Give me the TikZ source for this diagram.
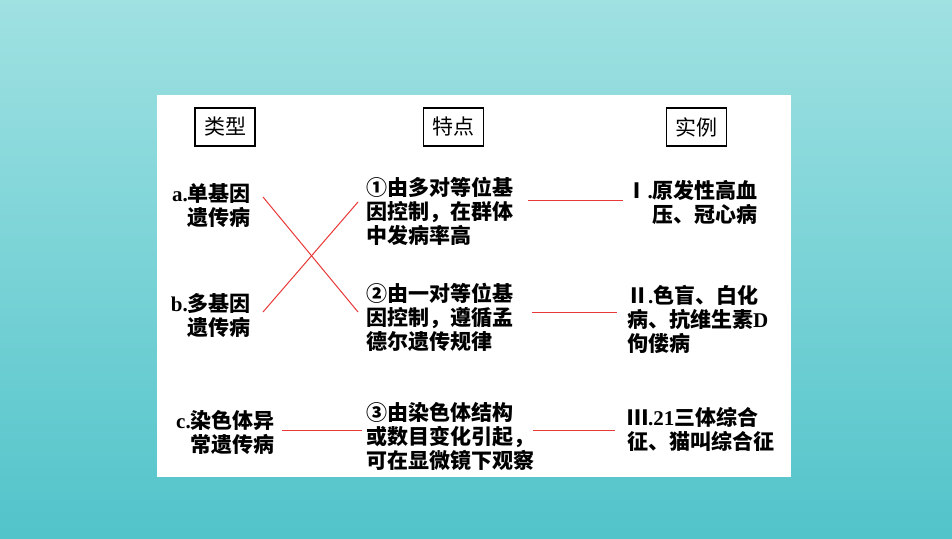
\documentclass[tikz,border=0pt]{standalone}
\usepackage{fontspec}
\newfontfamily\cjk{Noto Sans CJK SC}
\newfontfamily\lat{Liberation Serif}
\definecolor{bgtop}{RGB}{160,225,226}
\definecolor{bgbot}{RGB}{82,196,202}
\definecolor{linkred}{RGB}{232,56,56}
\newcommand{\lt}[1]{{\lat\bfseries #1}}
\tikzset{
  txt/.style={inner sep=0pt, font=\cjk\bfseries\fontsize{21}{24}\selectfont},
  hdr/.style={draw=black, line width=1.5pt, minimum width=60pt, minimum height=38pt,
              inner sep=0pt, font=\cjk\fontsize{21}{24}\selectfont},
  link/.style={draw=linkred, line width=1pt},
}
\begin{document}
\begin{tikzpicture}[x=1pt,y=-1pt]
\useasboundingbox (0,0) rectangle (952,538);
\shade[top color=bgtop, bottom color=bgbot] (0,0) rectangle (952,538);
\fill[white] (157,95) rectangle (791,477);
% headers
\node[hdr] (h1) at (225,127) {类型};
\node[hdr] (h2) at (453.5,127) {特点};
\node[hdr] (h3) at (696.5,127) {实例};
% column 1 (anchor = baseline of last line)
\node[txt, align=right, anchor=base east] (a) at (251,225) {\lt{a.}单基因\\遗传病};
\node[txt, align=right, anchor=base east] (b) at (251,335) {\lt{b.}多基因\\遗传病};
\node[txt, align=right, anchor=base east] (c) at (275,452) {\lt{c.}染色体异\\常遗传病};
% column 2
\node[txt, align=left, anchor=base west] (f1) at (366,243) {①由多对等位基\\因控制，在群体\\中发病率高};
\node[txt, align=left, anchor=base west] (f2) at (366,349) {②由一对等位基\\因控制，遵循孟\\德尔遗传规律};
\node[txt, align=left, anchor=base west] (f3) at (366,468) {③由染色体结构\\或数目变化引起，\\可在显微镜下观察};
% column 3
\node[txt, align=right, anchor=base east] (e1) at (758,222) {Ⅰ\lt{.}原发性高血\\压、冠心病};
\node[txt, align=left, anchor=base west] (e2) at (627,351) {Ⅱ\lt{.}色盲、白化\\病、抗维生素\lt{D}\\佝偻病};
\node[txt, align=left, anchor=base west] (e3) at (627,449) {Ⅲ\lt{.21}三体综合\\征、猫叫综合征};
% connector end points
\coordinate (a-o) at (263,197);
\coordinate (b-o) at (263,312);
\coordinate (f1-i) at (358,202);
\coordinate (f2-i) at (358,312);
\coordinate (c-o) at (282,430);
\coordinate (f3-i) at (362,430);
\coordinate (f1-o) at (528,200);
\coordinate (e1-i) at (623,200);
\coordinate (f2-o) at (532,312);
\coordinate (e2-i) at (617,312);
\coordinate (f3-o) at (533,430);
\coordinate (e3-i) at (615,430);
\draw[link] (a-o) -- (f2-i);
\draw[link] (b-o) -- (f1-i);
\draw[link] (c-o) -- (f3-i);
\draw[link] (f1-o) -- (e1-i);
\draw[link] (f2-o) -- (e2-i);
\draw[link] (f3-o) -- (e3-i);
\end{tikzpicture}
\end{document}
